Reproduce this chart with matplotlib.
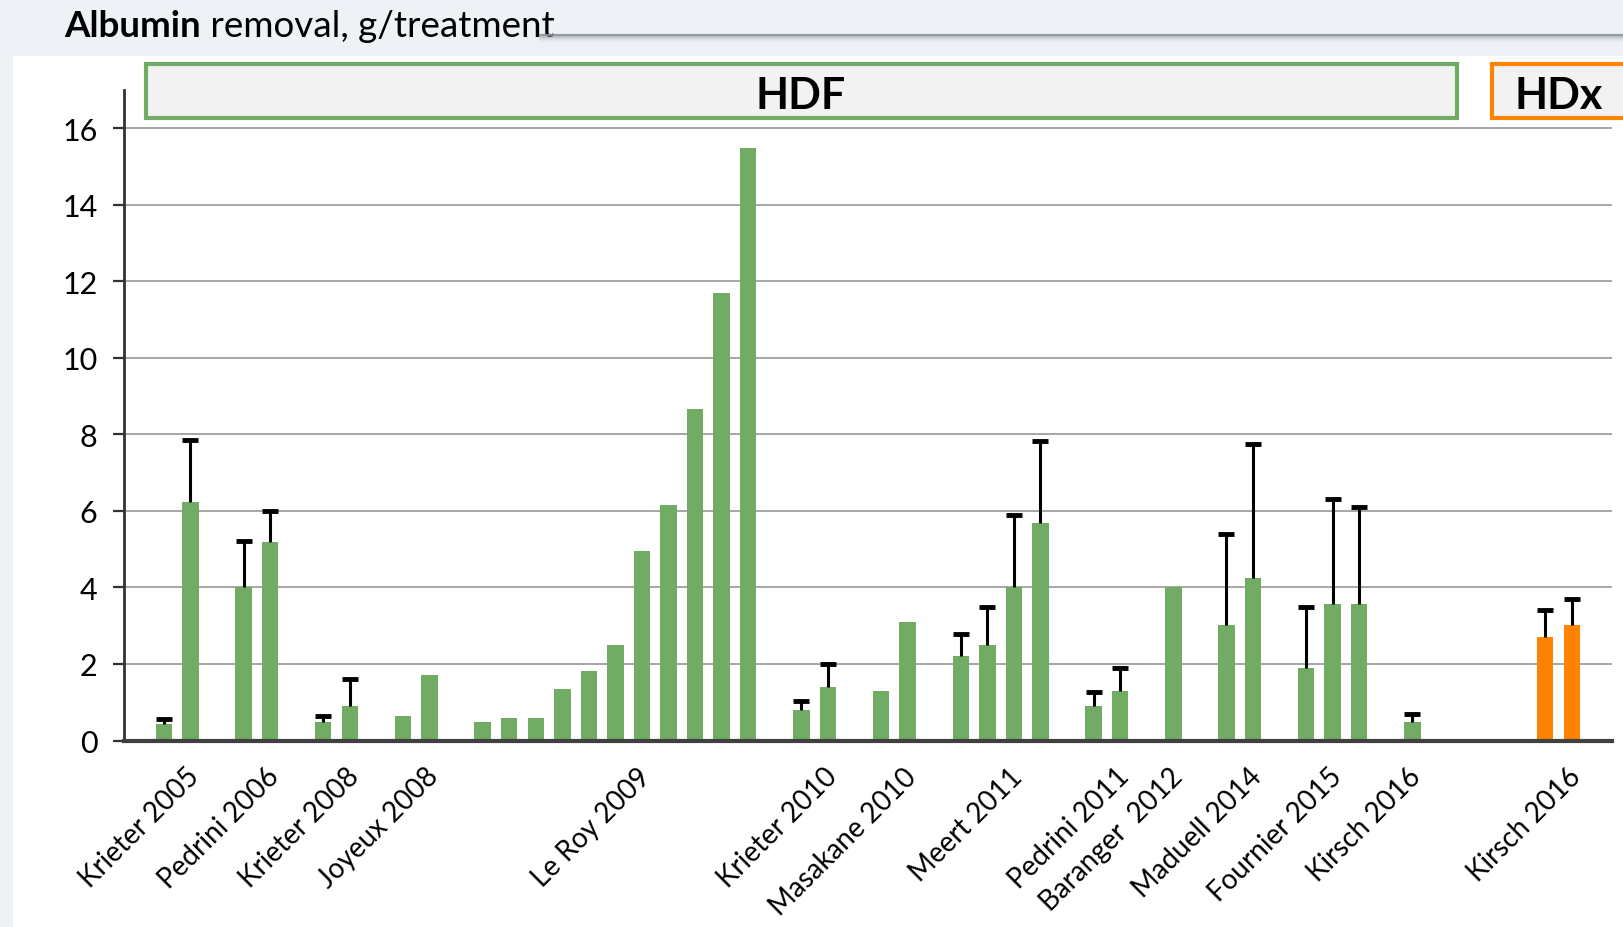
import matplotlib
matplotlib.use("Agg")
import matplotlib.pyplot as plt
import numpy as np
from matplotlib.patches import Rectangle
from matplotlib.transforms import ScaledTranslation

plt.rcParams['font.family'] = ['Lato', 'DejaVu Sans']

# studies and their per-arm albumin removal (g/treatment)
studies = ["Krieter 2005", "Pedrini 2006", "Krieter 2008", "Joyeux 2008",
           "Le Roy 2009", "Krieter 2010", "Masakane 2010", "Meert 2011",
           "Pedrini 2011", "Baranger  2012", "Maduell 2014", "Fournier 2015",
           "Kirsch 2016", "Kirsch 2016"]
modality = ["HDF"] * 13 + ["HDx"]
values = [
    [0.42, 6.23],
    [4.0, 5.19],
    [0.48, 0.91],
    [0.63, 1.70],
    [0.48, 0.58, 0.58, 1.34, 1.81, 2.49, 4.95, 6.15, 8.66, 11.7, 15.5],
    [0.80, 1.41],
    [1.30, 3.09],
    [2.20, 2.49, 4.0, 5.69],
    [0.91, 1.30],
    [4.0],
    [3.01, 4.26],
    [1.90, 3.58, 3.58],
    [0.48],
    [2.70, 3.01],
]
# upper SD bars (0 = none reported)
errors = [
    [0.13, 1.63],
    [1.22, 0.81],
    [0.15, 0.70],
    [0, 0],
    [0] * 11,
    [0.22, 0.59],
    [0, 0],
    [0.58, 1.01, 1.89, 2.13],
    [0.37, 0.59],
    [0],
    [2.38, 3.49],
    [1.60, 2.74, 2.53],
    [0.20],
    [0.70, 0.70],
]
label_at = [1, 1, 1, 1, 6, 1, 1, 2, 1, 0, 1, 1, 0, 1]
colors = {"HDF": "#72ac64", "HDx": "#ff8300"}

fig = plt.figure(figsize=(16.24, 9.28), dpi=100, facecolor="#eef2f6")
fig.add_artist(Rectangle((13 / 1624, 0), 1, 1 - 57 / 928, transform=fig.transFigure,
                         facecolor="white", edgecolor="none", zorder=0))
# header rule under the title
for dy, a in [(0, 0.9), (2, 0.45), (4, 0.2), (6, 0.08)]:
    fig.add_artist(plt.Line2D([540 / 1624, 1], [1 - (36 + dy) / 928] * 2,
                              color="#8d939a", lw=1.6, alpha=a, zorder=1))

ax = fig.add_axes([124 / 1624, 1 - 741.5 / 928, (1611.6 - 124) / 1624, 650.3 / 928])
ax.set_facecolor("none")

pos = 0
tick_pos, tick_lab = [], []
for i, (name, vals, errs) in enumerate(zip(studies, values, errors)):
    if modality[i] == "HDx" and modality[i - 1] == "HDF":
        pos += 3
    xs = pos + np.arange(len(vals))
    vals = np.array(vals)
    c = colors[modality[i]]
    ax.bar(xs, vals, width=0.62, color=c, zorder=3)
    e = np.array(errs)
    m = e > 0
    if m.any():
        # one-sided SD whiskers with a cap on top only
        ax.vlines(xs[m], vals[m], vals[m] + e[m], color="black", lw=2.2, zorder=4)
        ax.plot(xs[m], vals[m] + e[m], ls="none", marker="_", markersize=11,
                mew=3.5, color="black", zorder=4)
    tick_pos.append(xs[label_at[i]])
    tick_lab.append(name)
    pos += len(vals) + 1

ax.set_xlim(-1.5, 54.5)
ax.set_ylim(0, 17)
ax.set_yticks(np.arange(0, 17, 2))
ax.yaxis.grid(True, color="#a6a6a6", lw=1.4, zorder=0)
ax.set_axisbelow(True)
for s in ["top", "right"]:
    ax.spines[s].set_visible(False)
ax.spines["left"].set_color("#333333")
ax.spines["left"].set_linewidth(2)
ax.spines["bottom"].set_color("#404040")
ax.spines["bottom"].set_linewidth(3)
ax.spines["bottom"].set_zorder(5)
ax.tick_params(axis="y", length=8, width=1.6, color="#333333", labelsize=22, pad=11)
ax.set_xticks(tick_pos)
ax.set_xticklabels(tick_lab, rotation=45, ha="right", fontsize=20)
ax.tick_params(axis="x", length=0, pad=16)
off = ScaledTranslation(14 / 100, 0, fig.dpi_scale_trans)
for lab in ax.get_xticklabels():
    lab.set_transform(lab.get_transform() + off)

# modality header boxes
fig.add_artist(Rectangle((146 / 1624, 1 - 119 / 928), 1311 / 1624, 54 / 928,
                         transform=fig.transFigure, facecolor="#f2f2f2",
                         edgecolor="#72ac64", lw=3, zorder=6))
fig.add_artist(Rectangle((1492 / 1624, 1 - 119 / 928), 200 / 1624, 54 / 928,
                         transform=fig.transFigure, facecolor="#f2f2f2",
                         edgecolor="#ff8300", lw=3, zorder=6, clip_on=False))
fig.text(801 / 1624, 1 - 96 / 928, "HDF", ha="center", va="center",
         fontsize=31, fontweight="bold", zorder=7)
fig.text(1559 / 1624, 1 - 96 / 928, "HDx", ha="center", va="center",
         fontsize=31, fontweight="bold", zorder=7)

# title: bold lead word followed by regular text
t = fig.text(64 / 1624, 1 - 37 / 928, "Albumin", fontsize=26.5, fontweight="bold",
             va="baseline", zorder=7)
ax.annotate(" removal, g/treatment", xy=(1, 0), xycoords=t, va="bottom",
            fontsize=26.5, zorder=7, annotation_clip=False)

fig.savefig("out.png", dpi=100, facecolor=fig.get_facecolor())
